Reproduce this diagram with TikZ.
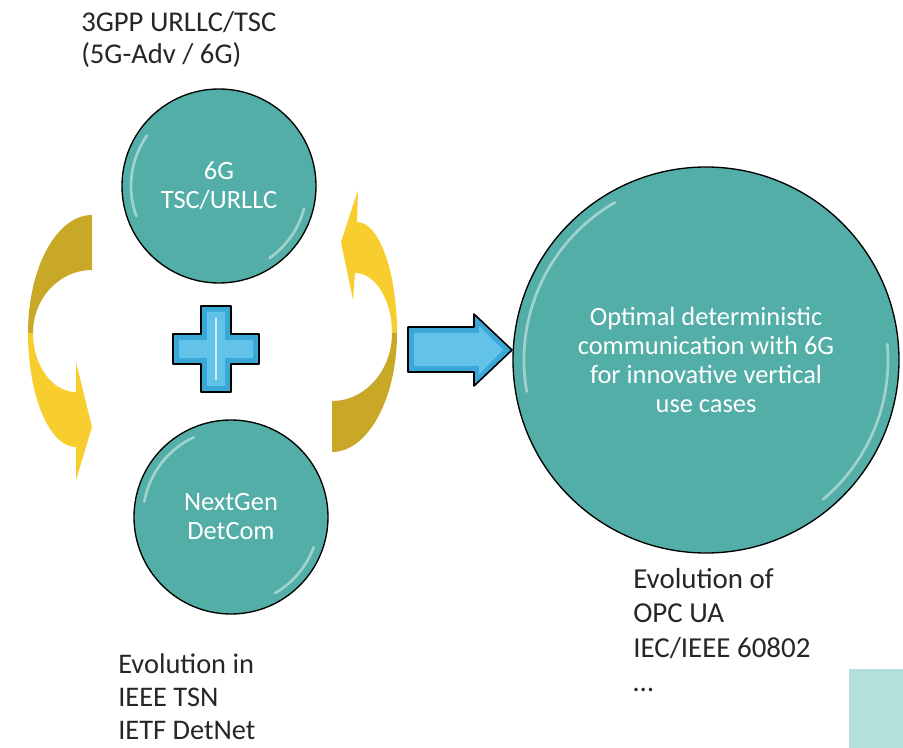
\documentclass[tikz,border=0pt]{standalone}
\usepackage{fontspec}
\setmainfont{Carlito}

\definecolor{tealfill}{RGB}{82,174,166}
\definecolor{golddark}{RGB}{201,168,40}
\definecolor{goldlight}{RGB}{248,206,46}
\definecolor{plusblue}{RGB}{58,168,214}
\definecolor{plusglow}{RGB}{98,194,232}
\definecolor{paleteal}{RGB}{180,224,220}

\begin{document}
\begin{tikzpicture}[x=0.75pt, y=0.75pt]
    % Estilos
    \tikzset{
        bubble/.style={
            draw=black, line width=1pt, circle, fill=tealfill, text=white, align=center,
            font=\fontsize{19.8}{21.75}\selectfont
        },
        caption/.style={
            anchor=north west, align=left, inner sep=0pt, text=black!85,
            font=\fontsize{21.3}{24.75}\selectfont
        },
        shine/.style={white, line width=2pt, opacity=0.45, line cap=round},
        bluebevel/.style={draw=black, line width=1.2pt, fill=plusblue, line join=round},
        blueglow/.style={fill=plusglow}
    }
    \useasboundingbox (0,-748) rectangle (903,0);

    % Circulos
    \node[bubble, minimum size=145.5pt] (tsc) at (219,-186) {6G\\TSC/URLLC};
    \node[bubble, minimum size=145.5pt] (detcom) at (231,-517) {NextGen\\DetCom};
    \node[bubble, minimum size=289.5pt] (optimal) at (706,-360) {Optimal deterministic\\communication with 6G\\for innovative vertical\\use cases};

    % Brillos
    \draw[shine] ([shift={(145:88)}]tsc.center) arc[start angle=145, end angle=200, radius=88];
    \draw[shine] ([shift={(-15:88)}]tsc.center) arc[start angle=-15, end angle=-55, radius=88];
    \draw[shine] ([shift={(115:88)}]detcom.center) arc[start angle=115, end angle=170, radius=88];
    \draw[shine] ([shift={(-20:88)}]detcom.center) arc[start angle=-20, end angle=-60, radius=88];
    \draw[shine] ([shift={(120:182)}]optimal.center) arc[start angle=120, end angle=190, radius=182];
    \draw[shine] ([shift={(5:182)}]optimal.center) arc[start angle=5, end angle=-50, radius=182];

    % Flecha curva izquierda
    \fill[golddark] (92,-215) .. controls (56.7,-215) and (28,-267.8) .. (28,-333)
        -- (33,-333) .. controls (33,-298.2) and (59.4,-270) .. (92,-270) -- cycle;
    \fill[goldlight] (28,-333) .. controls (28,-396) and (49.5,-447) .. (76,-447)
        -- (76,-480) -- (92,-427) -- (76,-362) -- (76,-392)
        .. controls (52.3,-392) and (33,-365.6) .. (33,-333) -- cycle;

    % Flecha curva derecha
    \fill[goldlight] (341,-242) -- (358,-190) -- (357,-222)
        .. controls (379,-222) and (397,-271.7) .. (397,-333)
        -- (392,-333) .. controls (392,-299.9) and (375.4,-273) .. (355,-273)
        -- (353,-300) -- cycle;
    \fill[golddark] (397,-333) .. controls (397,-398.7) and (367.9,-452) .. (332,-452)
        -- (332,-401) .. controls (365.1,-401) and (392,-370.6) .. (392,-333) -- cycle;

    % Signo mas
    \draw[bluebevel] (201,-306) -- (231,-306) -- (231,-334) -- (259,-334) -- (259,-364) -- (231,-364)
        -- (231,-392) -- (201,-392) -- (201,-364) -- (173,-364) -- (173,-334) -- (201,-334) -- cycle;
    \fill[blueglow] (207,-312) -- (225,-312) -- (225,-340) -- (253,-340) -- (253,-358) -- (225,-358)
        -- (225,-386) -- (207,-386) -- (207,-358) -- (179,-358) -- (179,-340) -- (207,-340) -- cycle;
    \draw[white, opacity=0.7, line width=1.5pt] (216,-318) -- (216,-380);

    % Flecha de bloque
    \draw[bluebevel] (408,-327) -- (474,-327) -- (474,-314) -- (512,-350) -- (474,-386)
        -- (474,-372) -- (408,-372) -- cycle;
    \fill[blueglow] (414,-333) -- (479,-333) -- (479,-326) -- (503,-350) -- (479,-374)
        -- (479,-366) -- (414,-366) -- cycle;

    % Textos
    \node[caption, font=\fontsize{21.5}{24}\selectfont] (gpp) at (81,-11) {3GPP URLLC/TSC\\(5G-Adv / 6G)};
    \node[caption] (ieee) at (118,-654) {Evolution in\\IEEE TSN\\IETF DetNet};
    \node[caption, font=\fontsize{21.7}{25.8}\selectfont] (opc) at (633,-568) {Evolution of\\OPC UA\\IEC/IEEE 60802\\\dots};

    % Recuadro
    \fill[paleteal] (849,-669) rectangle (903,-748);
\end{tikzpicture}
\end{document}
